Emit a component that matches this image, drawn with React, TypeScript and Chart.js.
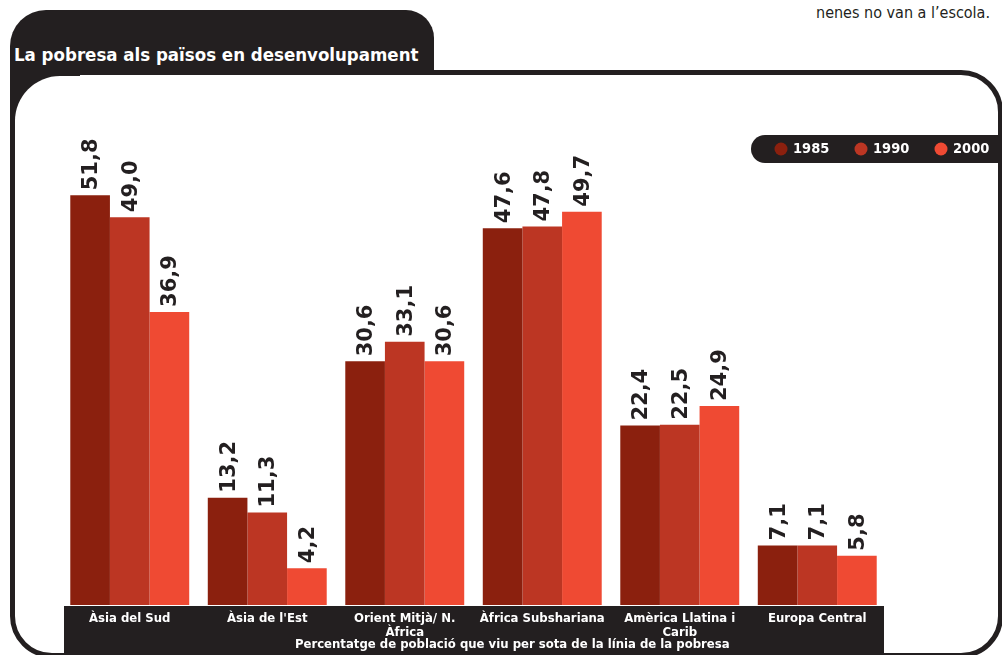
import React, { useEffect, useRef } from "react";
import { Chart, registerables } from "chart.js";

Chart.register(...registerables);

const categories: (string | string[])[] = [
  "Àsia del Sud",
  "Àsia de l'Est",
  ["Orient Mitjà/ N.", "Àfrica"],
  "Àfrica Subshariana",
  ["Amèrica Llatina i", "Carib"],
  "Europa Central",
];
const seriesNames = ["1985", "1990", "2000"];
const values1985 = [51.8, 13.2, 30.6, 47.6, 22.4, 7.1];
const values1990 = [49.0, 11.3, 33.1, 47.8, 22.5, 7.1];
const values2000 = [36.9, 4.2, 30.6, 49.7, 24.9, 5.8];
const seriesColors = ["#8b200e", "#bc3623", "#ef4a33"];

const titleText = "La pobresa als països en desenvolupament";
const axisTitle = "Percentatge de població que viu per sota de la línia de la pobresa";
const topText = "nenes no van a l’escola.";

const DARK = "#231f20";
const COND = '"DejaVu Sans Condensed", "DejaVu Sans", sans-serif';
const SANS = '"DejaVu Sans", sans-serif';

const fmt = (v: number) => v.toFixed(1).replace(".", ",");

const bandPlugin = {
  id: "band",
  beforeDraw(chart: any) {
    const x = chart.scales.x;
    const ctx = chart.ctx;
    ctx.save();
    ctx.fillStyle = DARK;
    ctx.fillRect(x.left + 3, x.top + 1, x.right - x.left - 5, x.bottom - x.top);
    ctx.restore();
  },
  afterDraw(chart: any) {
    const x = chart.scales.x;
    const ctx = chart.ctx;
    ctx.save();
    ctx.fillStyle = "#ffffff";
    ctx.font = `bold 13px ${COND}`;
    ctx.textAlign = "center";
    ctx.textBaseline = "middle";
    ctx.fillText(axisTitle, x.left + (x.right - x.left) * 0.547, x.bottom - 10.5);
    ctx.restore();
  },
};

const valueLabelPlugin = {
  id: "valueLabels",
  afterDatasetsDraw(chart: any) {
    const ctx = chart.ctx;
    ctx.save();
    ctx.fillStyle = DARK;
    ctx.font = `bold 21px ${SANS}`;
    ctx.textAlign = "left";
    ctx.textBaseline = "alphabetic";
    chart.data.datasets.forEach((ds: any, di: number) => {
      const meta = chart.getDatasetMeta(di);
      meta.data.forEach((bar: any, i: number) => {
        ctx.save();
        ctx.translate(bar.x + 7, bar.y - 5);
        ctx.rotate(-Math.PI / 2);
        ctx.fillText(fmt(ds.data[i]), 0, 0);
        ctx.restore();
      });
    });
    ctx.restore();
  },
};

const legendPlugin = {
  id: "pillLegend",
  afterDraw(chart: any) {
    const ctx = chart.ctx;
    const top = 135;
    const h = 28;
    const left = 751;
    const r = h / 2;
    ctx.save();
    ctx.fillStyle = DARK;
    ctx.beginPath();
    ctx.moveTo(left + r, top);
    ctx.lineTo(1010, top);
    ctx.lineTo(1010, top + h);
    ctx.lineTo(left + r, top + h);
    ctx.arc(left + r, top + r, r, Math.PI / 2, (3 * Math.PI) / 2);
    ctx.closePath();
    ctx.fill();
    ctx.font = `bold 14.5px ${COND}`;
    ctx.textBaseline = "middle";
    ctx.textAlign = "left";
    chart.data.datasets.forEach((ds: any, i: number) => {
      const cx = 781 + i * 80;
      const cy = top + r;
      ctx.fillStyle = ds.backgroundColor;
      ctx.beginPath();
      ctx.arc(cx, cy, 6.5, 0, Math.PI * 2);
      ctx.fill();
      ctx.fillStyle = "#ffffff";
      ctx.fillText(ds.label, cx + 12, cy + 0.5);
    });
    ctx.restore();
  },
};

export default function App() {
  const ref = useRef<HTMLCanvasElement>(null);

  useEffect(() => {
    if (!ref.current) return;
    const chart = new Chart(ref.current, {
      type: "bar",
      data: {
        labels: categories,
        datasets: [
          { label: seriesNames[0], data: values1985, backgroundColor: seriesColors[0] },
          { label: seriesNames[1], data: values1990, backgroundColor: seriesColors[1] },
          { label: seriesNames[2], data: values2000, backgroundColor: seriesColors[2] },
        ],
      },
      options: {
        responsive: false,
        animation: false,
        devicePixelRatio: 1,
        layout: { padding: { left: 61, right: 116, top: 131, bottom: 0 } },
        datasets: {
          bar: { categoryPercentage: 0.865, barPercentage: 1, borderWidth: 0, base: -0.5 },
        },
        plugins: {
          legend: { display: false },
          title: { display: false },
          tooltip: { enabled: false },
        },
        scales: {
          y: {
            display: false,
            min: -0.5,
            max: 60,
          },
          x: {
            grid: { display: false, drawTicks: false },
            border: { display: false },
            ticks: {
              color: "#ffffff",
              font: { family: COND, weight: "bold", size: 13, lineHeight: 1.05 },
              padding: 7,
              autoSkip: false,
              maxRotation: 0,
              minRotation: 0,
            },
            title: { display: false },
            afterFit: (s: any) => {
              s.height = 50;
            },
          },
        },
      },
      plugins: [bandPlugin, valueLabelPlugin, legendPlugin],
    } as any);
    return () => chart.destroy();
  }, []);

  return (
    <div
      style={{
        position: "absolute",
        left: 0,
        top: 0,
        width: 1002,
        height: 655,
        overflow: "hidden",
        background: "#ffffff",
      }}
    >
      <div
        style={{
          position: "absolute",
          left: 10,
          top: 70,
          width: 993,
          height: 588,
          boxSizing: "border-box",
          border: `5px solid ${DARK}`,
          borderRadius: 42,
        }}
      />
      <div
        style={{
          position: "absolute",
          left: 10,
          top: 10,
          width: 424,
          height: 64,
          background: DARK,
          borderRadius: "36px 28px 0 0",
        }}
      />
      <div
        style={{
          position: "absolute",
          left: 10,
          top: 60,
          width: 70,
          height: 140,
          background: DARK,
        }}
      />
      <div
        style={{
          position: "absolute",
          left: 15,
          top: 76,
          width: 120,
          height: 200,
          background: "#ffffff",
          borderTopLeftRadius: 45,
        }}
      />
      <div
        style={{
          position: "absolute",
          left: 14,
          top: 44,
          color: "#ffffff",
          fontFamily: COND,
          fontWeight: "bold",
          fontSize: 18.5,
          lineHeight: "22px",
          whiteSpace: "nowrap",
        }}
      >
        {titleText}
      </div>
      <div
        style={{
          position: "absolute",
          right: 12,
          top: 3,
          color: DARK,
          fontFamily: COND,
          fontSize: 16,
          lineHeight: "20px",
          whiteSpace: "nowrap",
        }}
      >
        {topText}
      </div>
      <canvas
        ref={ref}
        width={1002}
        height={655}
        style={{ position: "absolute", left: 0, top: 0, width: 1002, height: 655 }}
      />
    </div>
  );
}
